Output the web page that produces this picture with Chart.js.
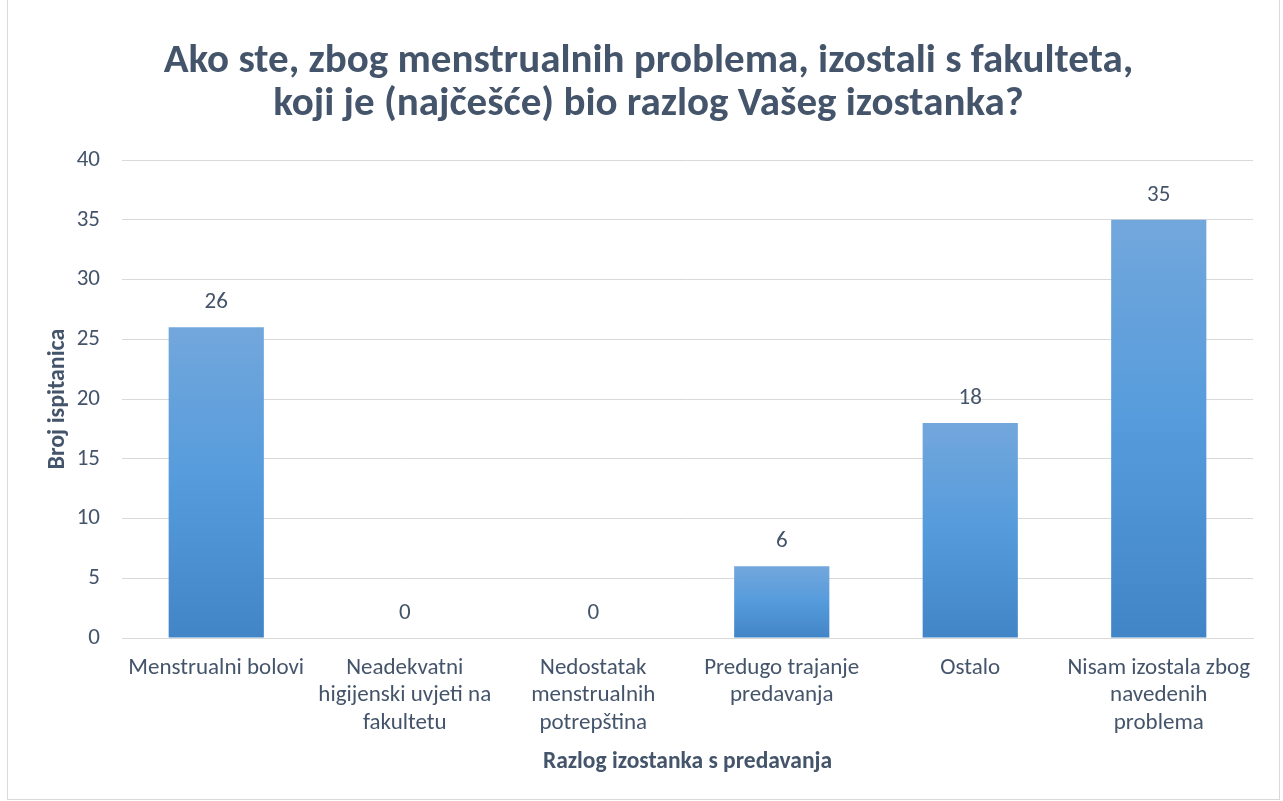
<!DOCTYPE html>
<html>
<head>
<meta charset="utf-8">
<script src="https://cdn.jsdelivr.net/npm/chart.js@4.4.0/dist/chart.umd.min.js"></script>
<style>
    html, body { margin: 0; padding: 0; background: #ffffff; }
    #frame {
        position: absolute; left: 7px; top: -1px; width: 1273px; height: 801px;
        border: 1px solid #d9d9d9; box-sizing: border-box;
    }
    #wrap { position: absolute; left: 0; top: 0; width: 1283px; height: 801px; }
</style>
</head>
<body>
<div id="frame"></div>
<div id="wrap"><canvas id="chart"></canvas></div>
<script>
// Chart data
const categories = [
    'Menstrualni bolovi',
    ['Neadekvatni', 'higijenski uvjeti na', 'fakultetu'],
    ['Nedostatak', 'menstrualnih', 'potrepština'],
    ['Predugo trajanje', 'predavanja'],
    'Ostalo',
    ['Nisam izostala zbog', 'navedenih', 'problema']
];
const counts = [26, 0, 0, 6, 18, 35];
const titleLines = ['Ako ste, zbog menstrualnih problema, izostali s fakulteta,', 'koji je (najčešće) bio razlog Vašeg izostanka?'];
const xTitle = 'Razlog izostanka s predavanja';
const yTitle = 'Broj ispitanica';

const textColor = '#44546a';
const fontFamily = 'Carlito, Calibri, Lato, sans-serif';

// Draw value labels above each bar
const valueLabels = {
    id: 'valueLabels',
    afterDatasetsDraw(chart) {
        const ctx = chart.ctx;
        const meta = chart.getDatasetMeta(0);
        ctx.save();
        ctx.font = '23px ' + fontFamily;
        ctx.fillStyle = textColor;
        ctx.textAlign = 'center';
        ctx.textBaseline = 'middle';
        meta.data.forEach((bar, i) => {
            ctx.fillText(counts[i], bar.x, bar.y - 25);
        });
        ctx.restore();
    }
};

const ctx = document.getElementById('chart');
new Chart(ctx, {
    type: 'bar',
    data: {
        labels: categories,
        datasets: [{
            data: counts,
            // gradient runs from the top of each bar to its base
            backgroundColor: function (context) {
                const chart = context.chart;
                if (!chart.chartArea || context.dataIndex === undefined) return '#559bdb';
                const y = chart.scales.y;
                const top = y.getPixelForValue(counts[context.dataIndex]);
                const base = y.getPixelForValue(0);
                if (base - top < 1) return '#559bdb';
                const g = chart.ctx.createLinearGradient(0, top, 0, base);
                g.addColorStop(0, '#72a7dc');
                g.addColorStop(0.5, '#559bdc');
                g.addColorStop(1, '#4285c7');
                return g;
            },
            categoryPercentage: 0.505,
            barPercentage: 1,
            borderWidth: 0
        }]
    },
    options: {
        responsive: true,
        maintainAspectRatio: false,
        animation: false,
        layout: {
            padding: { left: 44, right: 30, top: 22, bottom: 25 }
        },
        plugins: {
            legend: { display: false },
            tooltip: { enabled: false },
            title: {
                display: true,
                text: titleLines,
                color: textColor,
                font: { family: fontFamily, size: 41, weight: 'bold', lineHeight: 1.05 },
                padding: { top: 18, bottom: 34 }
            }
        },
        scales: {
            y: {
                min: 0,
                max: 40,
                afterFit: function (scale) {
                    scale.width = 78;
                },
                ticks: {
                    stepSize: 5,
                    color: textColor,
                    font: { family: fontFamily, size: 23 },
                    padding: 22
                },
                grid: {
                    color: '#d9d9d9',
                    lineWidth: 1,
                    drawTicks: false
                },
                border: { display: false },
                title: {
                    display: true,
                    text: yTitle,
                    color: textColor,
                    font: { family: fontFamily, size: 24, weight: 'bold' },
                    padding: { top: 0, bottom: 4 }
                }
            },
            x: {
                ticks: {
                    color: textColor,
                    font: { family: fontFamily, size: 23, lineHeight: 1.2 },
                    padding: 16,
                    maxRotation: 0,
                    autoSkip: false
                },
                grid: { display: false, drawTicks: false },
                border: { color: '#d9d9d9' },
                title: {
                    display: true,
                    text: xTitle,
                    color: textColor,
                    font: { family: fontFamily, size: 23.5, weight: 'bold' },
                    padding: { top: -5, bottom: 0 }
                }
            }
        }
    },
    plugins: [valueLabels]
});
</script>
</body>
</html>
